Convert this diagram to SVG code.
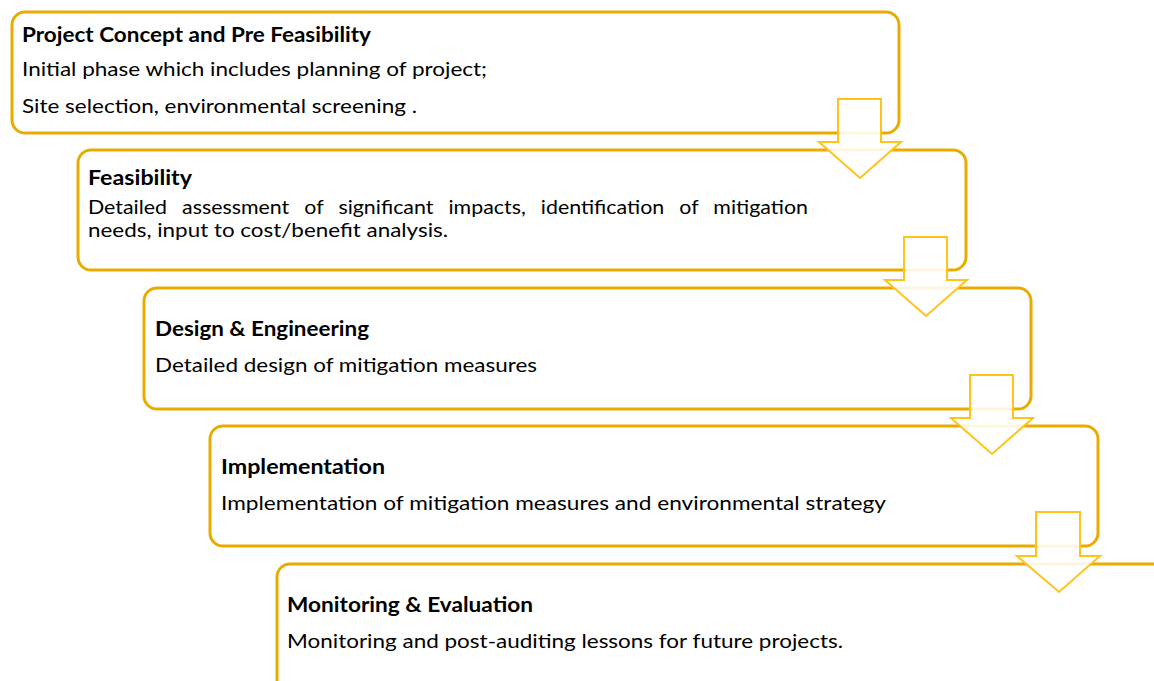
<svg xmlns="http://www.w3.org/2000/svg" width="1154" height="681" viewBox="0 0 1154 681">
<style>
.box{fill:#fff;stroke:#E8AC00;stroke-width:3}
.arr{fill:#fff;fill-opacity:0.88;stroke:#FFC31A;stroke-width:2;stroke-linejoin:miter}
text{font-family:Lato,"Open Sans","Liberation Sans",sans-serif;font-size:20px;fill:#000}
.t{font-weight:bold}
</style>
<rect width="1154" height="681" fill="#fff"/>
<g id="node1">
<rect class="box" x="12" y="12" width="887" height="121" rx="13"/>
<text class="t" x="22" y="42" textLength="349" lengthAdjust="spacingAndGlyphs">Project Concept and Pre Feasibility</text>
<text x="22" y="76" textLength="465" lengthAdjust="spacingAndGlyphs">Initial phase which includes planning of project;</text>
<text x="22" y="113" textLength="395" lengthAdjust="spacingAndGlyphs">Site selection, environmental screening .</text>
</g>
<g id="node2">
<rect class="box" x="78" y="150" width="888" height="120" rx="13"/>
<text class="t" x="88" y="185" textLength="104" lengthAdjust="spacingAndGlyphs">Feasibility</text>
<text x="88" y="214" word-spacing="9" textLength="720" lengthAdjust="spacingAndGlyphs">Detailed assessment of significant impacts, identification of mitigation</text>
<text x="88" y="237" textLength="360" lengthAdjust="spacingAndGlyphs">needs, input to cost/benefit analysis.</text>
</g>
<g id="node3">
<rect class="box" x="144" y="288" width="887" height="121" rx="13"/>
<text class="t" x="155" y="336" textLength="214" lengthAdjust="spacingAndGlyphs">Design &amp; Engineering</text>
<text x="155" y="372" textLength="382" lengthAdjust="spacingAndGlyphs">Detailed design of mitigation measures</text>
</g>
<g id="node4">
<rect class="box" x="210" y="426" width="888" height="120" rx="13"/>
<text class="t" x="221" y="474" textLength="164" lengthAdjust="spacingAndGlyphs">Implementation</text>
<text x="221" y="510" textLength="665" lengthAdjust="spacingAndGlyphs">Implementation of mitigation measures and environmental strategy</text>
</g>
<g id="node5">
<rect class="box" x="277" y="564" width="1000" height="200" rx="13"/>
<text class="t" x="287" y="612" textLength="246" lengthAdjust="spacingAndGlyphs">Monitoring &amp; Evaluation</text>
<text x="287" y="648" textLength="556" lengthAdjust="spacingAndGlyphs">Monitoring and post-auditing lessons for future projects.</text>
</g>
<g id="connectors">
<path class="arr" d="M838,99 H881 V142 H901 L860,178 L819,142 H838 Z"/>
<path class="arr" d="M904,237 H947 V280 H967 L926,316 L885,280 H904 Z"/>
<path class="arr" d="M970,375 H1013 V418 H1033 L992,454 L951,418 H970 Z"/>
<path class="arr" d="M1036,512 H1080 V556 H1100 L1059,592 L1017,556 H1036 Z"/>
</g>
</svg>
